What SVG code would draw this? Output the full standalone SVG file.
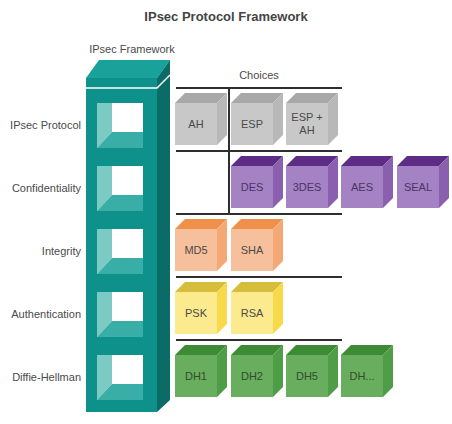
<svg xmlns="http://www.w3.org/2000/svg" width="452" height="424" viewBox="0 0 452 424">
<style>
text{font-family:"Liberation Sans",Arial,sans-serif;font-size:11px;fill:#4a4a4a}
.title{font-size:13px;font-weight:bold;fill:#444}
.lbl{text-anchor:end}
.ct{text-anchor:middle}
.line{stroke:#2e2e2e;stroke-width:2;fill:none}
.colF{fill:#0e918b}.colT{fill:#18a29a}.colS{fill:#0a6b67}
.winW{fill:#ffffff}.winL{fill:#7ccac4}.winB{fill:#38aea6}
.gF{fill:#c8c8c8}.gT{fill:#a8a8a8}.gS{fill:#b8b8b8}
.pF{fill:#a482c3}.pT{fill:#5d2c85}.pS{fill:#8b5fb0}
.oF{fill:#f7c09c}.oT{fill:#f0914b}.oS{fill:#f4a873}
.yF{fill:#fcea8e}.yT{fill:#d6bd3c}.yS{fill:#f7d94a}
.dF{fill:#69ae5f}.dT{fill:#3e8b36}.dS{fill:#4f9d46}
.pt{fill:#4a3566}.dt{fill:#2f4d2b}
</style>
<rect width="452" height="424" fill="#ffffff"/>
<text class="title ct" x="226" y="21">IPsec Protocol Framework</text>
<text class="ct" x="132" y="53">IPsec Framework</text>
<text class="ct" x="259" y="79">Choices</text>

<g id="labels">
<text class="lbl" x="81" y="129">IPsec Protocol</text>
<text class="lbl" x="81" y="192">Confidentiality</text>
<text class="lbl" x="81" y="255">Integrity</text>
<text class="lbl" x="81" y="318">Authentication</text>
<text class="lbl" x="81" y="381">Diffie-Hellman</text>
</g>

<g id="framework-column">
<polygon class="colT" points="86,78 99,60 170,60 157,78"/>
<polygon class="colS" points="157,78 170,60 170,400 157,412"/>
<rect class="colF" x="86" y="78" width="71" height="334"/>
<polyline points="86,88 157,88 170,75" fill="none" stroke="#ffffff" stroke-width="1.5"/>
<g id="win-1" transform="translate(97,103)">
<rect class="winW" width="46" height="45"/><polygon class="winL" points="0,0 15,0 15,29 0,45"/><polygon class="winB" points="0,45 15,29 46,29 46,45"/>
</g>
<g id="win-2" transform="translate(97,166)">
<rect class="winW" width="46" height="45"/><polygon class="winL" points="0,0 15,0 15,29 0,45"/><polygon class="winB" points="0,45 15,29 46,29 46,45"/>
</g>
<g id="win-3" transform="translate(97,229)">
<rect class="winW" width="46" height="45"/><polygon class="winL" points="0,0 15,0 15,29 0,45"/><polygon class="winB" points="0,45 15,29 46,29 46,45"/>
</g>
<g id="win-4" transform="translate(97,292)">
<rect class="winW" width="46" height="45"/><polygon class="winL" points="0,0 15,0 15,29 0,45"/><polygon class="winB" points="0,45 15,29 46,29 46,45"/>
</g>
<g id="win-5" transform="translate(97,355)">
<rect class="winW" width="46" height="45"/><polygon class="winL" points="0,0 15,0 15,29 0,45"/><polygon class="winB" points="0,45 15,29 46,29 46,45"/>
</g>
</g>

<g id="connectors">
<line class="line" x1="176" y1="88" x2="342" y2="88"/>
<line class="line" x1="176" y1="151" x2="342" y2="151"/>
<line class="line" x1="176" y1="214" x2="342" y2="214"/>
<line class="line" x1="176" y1="277" x2="342" y2="277"/>
<line class="line" x1="176" y1="340" x2="342" y2="340"/>
<line class="line" x1="229" y1="88" x2="229" y2="214"/>
</g>

<g id="cube-ah" transform="translate(175,103)">
<polygon class="gT" points="0,0 10,-10 52,-10 42,0"/><polygon class="gS" points="42,0 52,-10 52,32 42,42"/><rect class="gF" width="42" height="42"/>
<text class="ct" x="21" y="25">AH</text>
</g>
<g id="cube-esp" transform="translate(231,103)">
<polygon class="gT" points="0,0 10,-10 52,-10 42,0"/><polygon class="gS" points="42,0 52,-10 52,32 42,42"/><rect class="gF" width="42" height="42"/>
<text class="ct" x="21" y="25">ESP</text>
</g>
<g id="cube-esp-ah" transform="translate(286,103)">
<polygon class="gT" points="0,0 10,-10 52,-10 42,0"/><polygon class="gS" points="42,0 52,-10 52,32 42,42"/><rect class="gF" width="42" height="42"/>
<text class="ct" x="21" y="18">ESP +</text>
<text class="ct" x="21" y="31">AH</text>
</g>

<g id="cube-des" transform="translate(231,166)">
<polygon class="pT" points="0,0 10,-10 52,-10 42,0"/><polygon class="pS" points="42,0 52,-10 52,32 42,42"/><rect class="pF" width="42" height="42"/>
<text class="ct pt" x="21" y="25">DES</text>
</g>
<g id="cube-3des" transform="translate(286,166)">
<polygon class="pT" points="0,0 10,-10 52,-10 42,0"/><polygon class="pS" points="42,0 52,-10 52,32 42,42"/><rect class="pF" width="42" height="42"/>
<text class="ct pt" x="21" y="25">3DES</text>
</g>
<g id="cube-aes" transform="translate(341,166)">
<polygon class="pT" points="0,0 10,-10 52,-10 42,0"/><polygon class="pS" points="42,0 52,-10 52,32 42,42"/><rect class="pF" width="42" height="42"/>
<text class="ct pt" x="21" y="25">AES</text>
</g>
<g id="cube-seal" transform="translate(397,166)">
<polygon class="pT" points="0,0 10,-10 52,-10 42,0"/><polygon class="pS" points="42,0 52,-10 52,32 42,42"/><rect class="pF" width="42" height="42"/>
<text class="ct pt" x="21" y="25">SEAL</text>
</g>

<g id="cube-md5" transform="translate(175,229)">
<polygon class="oT" points="0,0 10,-10 52,-10 42,0"/><polygon class="oS" points="42,0 52,-10 52,32 42,42"/><rect class="oF" width="42" height="42"/>
<text class="ct" x="21" y="25">MD5</text>
</g>
<g id="cube-sha" transform="translate(231,229)">
<polygon class="oT" points="0,0 10,-10 52,-10 42,0"/><polygon class="oS" points="42,0 52,-10 52,32 42,42"/><rect class="oF" width="42" height="42"/>
<text class="ct" x="21" y="25">SHA</text>
</g>

<g id="cube-psk" transform="translate(175,292)">
<polygon class="yT" points="0,0 10,-10 52,-10 42,0"/><polygon class="yS" points="42,0 52,-10 52,32 42,42"/><rect class="yF" width="42" height="42"/>
<text class="ct" x="21" y="25">PSK</text>
</g>
<g id="cube-rsa" transform="translate(231,292)">
<polygon class="yT" points="0,0 10,-10 52,-10 42,0"/><polygon class="yS" points="42,0 52,-10 52,32 42,42"/><rect class="yF" width="42" height="42"/>
<text class="ct" x="21" y="25">RSA</text>
</g>

<g id="cube-dh1" transform="translate(175,355)">
<polygon class="dT" points="0,0 10,-10 52,-10 42,0"/><polygon class="dS" points="42,0 52,-10 52,32 42,42"/><rect class="dF" width="42" height="42"/>
<text class="ct dt" x="21" y="25">DH1</text>
</g>
<g id="cube-dh2" transform="translate(231,355)">
<polygon class="dT" points="0,0 10,-10 52,-10 42,0"/><polygon class="dS" points="42,0 52,-10 52,32 42,42"/><rect class="dF" width="42" height="42"/>
<text class="ct dt" x="21" y="25">DH2</text>
</g>
<g id="cube-dh5" transform="translate(286,355)">
<polygon class="dT" points="0,0 10,-10 52,-10 42,0"/><polygon class="dS" points="42,0 52,-10 52,32 42,42"/><rect class="dF" width="42" height="42"/>
<text class="ct dt" x="21" y="25">DH5</text>
</g>
<g id="cube-dh-more" transform="translate(341,355)">
<polygon class="dT" points="0,0 10,-10 52,-10 42,0"/><polygon class="dS" points="42,0 52,-10 52,32 42,42"/><rect class="dF" width="42" height="42"/>
<text class="ct dt" x="21" y="25">DH...</text>
</g>
</svg>
